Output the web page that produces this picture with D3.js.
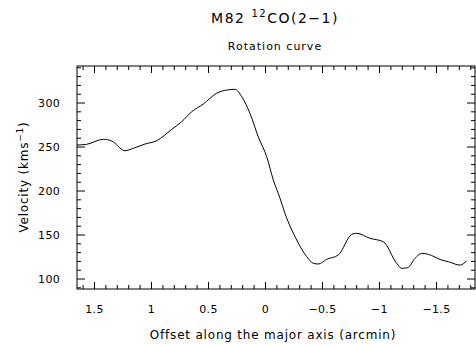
<!DOCTYPE html>
<html>
<head>
<meta charset="utf-8">
<script src="https://cdn.jsdelivr.net/npm/d3@7"></script>
<style>
  body { margin: 0; background: #fff; }
  text { font-family: "DejaVu Sans", sans-serif; fill: #000; }
</style>
</head>
<body>
<script>
// donnees (offset en arcmin, vitesse en km/s)
var offset = [1.649, 1.564, 1.418, 1.345, 1.228, 1.155, 1.053, 0.950, 0.818, 0.731,
    0.643, 0.541, 0.424, 0.336, 0.263, 0.204, 0.132, 0.059, -0.015, -0.073,
    -0.132, -0.175, -0.278, -0.366, -0.424, -0.468, -0.541, -0.643, -0.761, -0.804,
    -0.921, -1.038, -1.155, -1.199, -1.252, -1.316, -1.375, -1.432, -1.550, -1.608,
    -1.711, -1.769];
var velocity = [251.7, 252.5, 258.2, 256.3, 245.2, 248, 252.8, 256.6, 269.5, 278.2,
    289.5, 298.3, 310.5, 314.2, 315, 306.6, 287.7, 261.1, 238.4, 211.9,
    191.1, 174.1, 143.8, 124.8, 117.3, 116.5, 121.8, 126.7, 150.2, 151.4,
    145.7, 141.8, 117.3, 111.6, 112.3, 123, 128.6, 127.5, 121, 119.1,
    115.3, 120.2];
var xMajor = [1.5, 1, 0.5, 0, -0.5, -1, -1.5];
var xLabels = ["1.5", "1", "0.5", "0", "\u22120.5", "\u22121", "\u22121.5"];
var yMajor = [100, 150, 200, 250, 300];

var width = 476;
var height = 345;
var mLeft = 77, mRight = 475, mTop = 66, mBottom = 289;

var svg = d3.select("body")
    .append("svg")
    .attr("width", width)
    .attr("height", height);

var xscale = d3.scaleLinear()
    .domain([1.649, -1.842])
    .range([mLeft, mRight]);

var yscale = d3.scaleLinear()
    .domain([88.1, 341.5])
    .range([mBottom, mTop]);

// ticks mineurs
var xMinor = d3.range(-18, 17).map(function (d) { return d / 10; })
    .filter(function (d) { return xMajor.indexOf(d) < 0; });
var yMinor = d3.range(9, 35).map(function (d) { return d * 10; })
    .filter(function (d) { return yMajor.indexOf(d) < 0; });

function drawAxis(axis, translate, values, size, labels) {
    var g = svg.append("g")
        .attr("transform", translate)
        .call(axis.tickValues(values).tickSize(size).tickPadding(9 - size)
            .tickFormat(labels ? function (d, i) { return labels[i]; } : function () { return ""; }));
    g.select(".domain").remove();
    g.selectAll("line").attr("stroke", "#000").attr("stroke-width", 1);
    g.selectAll("text").style("font-family", "DejaVu Sans").style("font-size", "11px")
        .style("letter-spacing", "0.3px").attr("fill", "#000");
    return g;
}

// axe du bas
drawAxis(d3.axisBottom(xscale), "translate(0," + mBottom + ")", xMajor, -7, xLabels);
drawAxis(d3.axisBottom(xscale), "translate(0," + mBottom + ")", xMinor, -4, null);
// axe du haut
drawAxis(d3.axisTop(xscale), "translate(0," + mTop + ")", xMajor, -7, null);
drawAxis(d3.axisTop(xscale), "translate(0," + mTop + ")", xMinor, -4, null);
// axe gauche
drawAxis(d3.axisLeft(yscale), "translate(" + mLeft + ",0)", yMajor, -8, yMajor.map(String));
drawAxis(d3.axisLeft(yscale), "translate(" + mLeft + ",0)", yMinor, -4, null);
// axe droit
drawAxis(d3.axisRight(yscale), "translate(" + mRight + ",0)", yMajor, -8, null);
drawAxis(d3.axisRight(yscale), "translate(" + mRight + ",0)", yMinor, -4, null);

// cadre
svg.append("rect")
    .attr("x", mLeft)
    .attr("y", mTop)
    .attr("width", mRight - mLeft)
    .attr("height", mBottom - mTop)
    .attr("fill", "none")
    .attr("stroke", "#000")
    .attr("stroke-width", 1);

// courbe
var data = offset.map(function (d, i) { return { x: d, v: velocity[i] }; });
var line = d3.line()
    .x(function (d) { return xscale(d.x); })
    .y(function (d) { return yscale(d.v); })
    .curve(d3.curveMonotoneX);

svg.append("path")
    .datum(data)
    .attr("d", line)
    .attr("fill", "none")
    .attr("stroke", "#000")
    .attr("stroke-width", 1);

// titres
var title = svg.append("text")
    .attr("x", 275)
    .attr("y", 23)
    .attr("text-anchor", "middle")
    .style("font-size", "14px")
    .style("letter-spacing", "1.5px");
title.append("tspan").text("M82 ");
title.append("tspan").attr("dy", -6).style("font-size", "10px").text("12");
title.append("tspan").attr("dy", 6).text("CO(2\u22121)");

svg.append("text")
    .attr("x", 275)
    .attr("y", 50)
    .attr("text-anchor", "middle")
    .style("font-size", "11px")
    .style("letter-spacing", "1px")
    .text("Rotation curve");

svg.append("text")
    .attr("x", 273)
    .attr("y", 339)
    .attr("text-anchor", "middle")
    .style("font-size", "12px")
    .style("letter-spacing", "0.8px")
    .text("Offset along the major axis (arcmin)");

var ylab = svg.append("text")
    .attr("transform", "translate(28,177) rotate(-90)")
    .attr("text-anchor", "middle")
    .style("font-size", "12px")
    .style("letter-spacing", "0.8px");
ylab.append("tspan").text("Velocity (kms");
ylab.append("tspan").attr("dy", -5).style("font-size", "9px").text("\u22121");
ylab.append("tspan").attr("dy", 5).text(")");
</script>
</body>
</html>
